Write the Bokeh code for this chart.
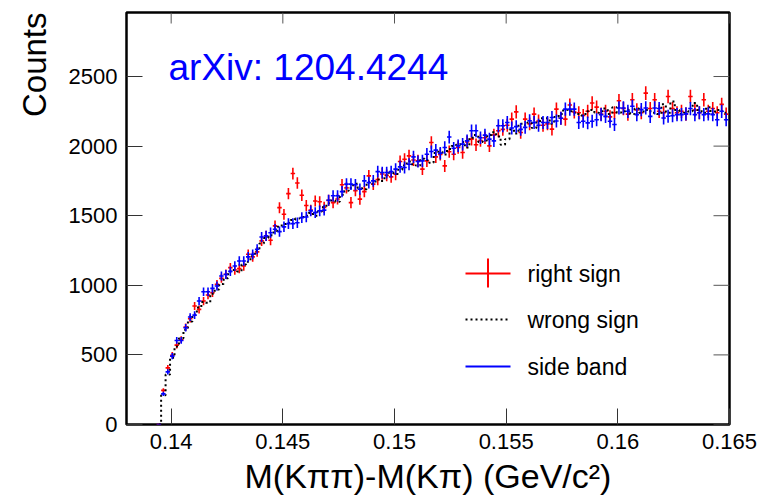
import numpy as np
from bokeh.plotting import figure
from bokeh.models import Range1d, FixedTicker, Label, Arrow, Title
from bokeh.embed import file_html
from bokeh.resources import INLINE

# ---- data ----
bin_first_center = 0.13945   # GeV/c^2
bin_width = 0.0002

right_sign = [0, 245, 407, 498, 570, 610, 700, 760, 851, 827,
              887, 930, 947, 1007, 1050, 1080, 1127, 1110, 1120, 1139,
              1223, 1204, 1240, 1319, 1355, 1324, 1427, 1558, 1510, 1659,
              1803, 1735, 1647, 1573, 1540, 1606, 1600, 1560, 1610, 1594,
              1620, 1722, 1700, 1594, 1680, 1619, 1673, 1786, 1727, 1760,
              1800, 1790, 1779, 1798, 1890, 1906, 1930, 1900, 1894, 1835,
              1894, 2026, 1923, 1940,
              1858, 1960, 1942, 1990, 1954, 2030, 2050, 2010, 2040, 2060,
              2002, 2080, 2110, 2120, 2150, 2194, 2246, 2098, 2194, 2160,
              2230, 2180, 2150, 2160, 2122, 2266, 2200, 2194, 2295, 2245,
              2240, 2220, 2250, 2310, 2280, 2230, 2250, 2210, 2240, 2326,
              2270, 2230, 2333, 2260, 2240, 2381, 2270, 2333, 2250, 2240,
              2357, 2270, 2240, 2250, 2230, 2357, 2260, 2240, 2333, 2250,
              2270, 2240, 2300, 2230]

wrong_sign = [0, 210, 360, 480, 560, 620, 680, 740, 790, 840,
              880, 875, 940, 970, 1010, 1050, 1100, 1110, 1100, 1150,
              1170, 1210, 1250, 1300, 1340, 1360, 1380, 1420, 1440, 1450,
              1470, 1480, 1490, 1500, 1520, 1500, 1530, 1560, 1590, 1610,
              1600, 1650, 1680, 1700, 1730, 1700, 1690, 1740, 1730, 1760,
              1750, 1790, 1810, 1800, 1830, 1860, 1890, 1870, 1860, 1910,
              1900, 1880, 1950, 1960, 1940, 1980, 2000, 2010, 2030, 1990,
              2060, 2080, 2030, 2040, 2080, 2100, 2070, 2010, 2050, 2120,
              2090, 2160, 2150, 2170, 2130, 2180, 2200, 2200, 2160, 2210,
              2230, 2260, 2250, 2240, 2230, 2220, 2250, 2260, 2240, 2250,
              2270, 2230, 2280, 2240, 2250, 2260, 2230, 2270, 2240, 2260,
              2250, 2240, 2230, 2300, 2240, 2320, 2260, 2230, 2240, 2250,
              2310, 2260, 2240, 2280, 2230, 2260, 2250, 2240]

side_band = [0, 220, 378, 491, 604, 604, 695, 772, 786, 887,
             954, 954, 978, 995, 1067, 1078, 1100, 1139, 1175, 1175,
             1204, 1223, 1259, 1347, 1355, 1378, 1403, 1386, 1420, 1443,
             1443, 1450, 1486, 1491, 1535, 1522, 1535, 1540, 1611, 1643,
             1643, 1673, 1727, 1727, 1722, 1691, 1750, 1738, 1750, 1817,
             1810, 1810, 1817, 1835, 1851, 1846, 1870, 1923, 1890, 1894,
             1942, 1961, 1971, 1950,
             1990, 2065, 1985, 2002, 2014, 2038, 2110, 2110, 2060, 2079,
             2050, 2038, 2146, 2146, 2170, 2130, 2140, 2120, 2135, 2182,
             2170, 2150, 2170, 2170, 2206, 2180, 2200, 2266, 2266, 2266,
             2170, 2179, 2167, 2179, 2190, 2226, 2214, 2179, 2155, 2274,
             2274, 2250, 2286, 2226, 2262, 2274, 2214, 2274, 2270, 2202,
             2215, 2218, 2226, 2226, 2232, 2270, 2226, 2240, 2226, 2232,
             2226, 2190, 2250, 2190]

x_ticks = [0.14, 0.145, 0.15, 0.155, 0.16, 0.165]
x_tick_labels = ["0.14", "0.145", "0.15", "0.155", "0.16", "0.165"]
y_ticks = [0, 500, 1000, 1500, 2000, 2500]

legend_labels = ["right sign", "wrong sign", "side band"]
annotation_text = "arXiv: 1204.4244"
x_title = "M(K\u03c0\u03c0)-M(K\u03c0) (GeV/c\u00b2)"
y_title = "Counts"

# ---- layout ----
W, H = 760, 498
BL, BR, BT, BB = 126, 31, 12, 74
FW, FH = W - BL - BR, H - BT - BB
X0, X1 = 0.138, 0.165
Y0, Y1 = 0, 2960
FONT = "Liberation Sans"

# ---- derived ----
n = len(side_band)
xc = bin_first_center + bin_width * np.arange(n)
rs = np.array(right_sign, dtype=float)
ws = np.array(wrong_sign, dtype=float)
sb = np.array(side_band, dtype=float)
rs_err = np.sqrt(rs)
sb_err = np.sqrt(sb)
half = bin_width / 2

p = figure(width=W, height=H,
           x_range=Range1d(X0, X1), y_range=Range1d(Y0, Y1),
           output_backend="svg", toolbar_location=None,
           min_border_left=BL, min_border_right=BR,
           min_border_top=BT, min_border_bottom=BB)
p.grid.visible = False
p.outline_line_color = "black"
p.outline_line_width = 2.5
p.outline_line_alpha = 1.0
p.background_fill_color = "white"
p.border_fill_color = "white"

# ---- axes ----
p.xaxis.ticker = FixedTicker(ticks=x_ticks)
p.xaxis.major_label_overrides = {t: s for t, s in zip(x_ticks, x_tick_labels)}
p.yaxis.ticker = FixedTicker(ticks=y_ticks)
p.xaxis.axis_label = x_title
for ax in (p.xaxis[0], p.yaxis[0]):
    ax.axis_line_color = None
    ax.major_tick_in = 16
    ax.major_tick_out = 0
    ax.major_tick_line_color = "#333333"
    ax.major_tick_line_width = 1
    ax.minor_tick_line_color = None
    ax.major_label_text_font = FONT
    ax.major_label_text_font_size = "22px"
    ax.major_label_text_color = "black"
    ax.axis_label_text_font = FONT
    ax.axis_label_text_font_style = "normal"
    ax.axis_label_text_color = "black"
p.xaxis.axis_label_text_font_size = "34px"
p.yaxis.major_label_standoff = 9
p.xaxis.major_label_standoff = 9
p.xaxis.axis_label_standoff = 5

# y-axis title at the top end of the axis (ROOT style), as a side title
p.add_layout(Title(text=y_title, align="right", text_font=FONT,
                   text_font_size="33px", text_font_style="normal",
                   text_color="black", standoff=26, offset=0), "left")

# mirrored ticks on top and right (tick marks only, no labels)
top_len = 11 * (Y1 - Y0) / FH
right_len = 16 * (X1 - X0) / FW
xt = np.array(x_ticks)
yt = np.array(y_ticks, dtype=float)
p.segment(x0=xt, y0=np.full(len(xt), Y1), x1=xt, y1=np.full(len(xt), Y1 - top_len),
          line_color="#555555", line_width=1)
p.segment(x0=np.full(len(yt), X1), y0=yt, x1=np.full(len(yt), X1 - right_len), y1=yt,
          line_color="#555555", line_width=1)

# ---- right sign (red error crosses) ----
p.segment(x0=xc - half, y0=rs, x1=xc + half, y1=rs, line_color="red", line_width=1.6)
p.segment(x0=xc, y0=rs - rs_err, x1=xc, y1=rs + rs_err, line_color="red", line_width=1.6)

# ---- wrong sign (black dotted histogram) ----
p.step(x=xc, y=ws, mode="center", line_color="black", line_width=2, line_dash="2 3")

# ---- side band (blue error crosses) ----
p.segment(x0=xc - half, y0=sb, x1=xc + half, y1=sb, line_color="blue", line_width=1.6)
p.segment(x0=xc, y0=sb - sb_err, x1=xc, y1=sb + sb_err, line_color="blue", line_width=1.6)

# ---- annotation ----
p.add_layout(Label(x=42, y=357, x_units="screen", y_units="screen",
                   text=annotation_text, text_font=FONT, text_font_size="37px",
                   text_color="blue", text_baseline="alphabetic"))

# ---- legend (screen units relative to frame) ----
lx0, lx1, ltext = 339, 384, 401
rows = [151, 105, 58]
p.add_layout(Arrow(end=None, x_start=lx0, y_start=rows[0], x_end=lx1, y_end=rows[0],
                   start_units="screen", end_units="screen", line_color="red", line_width=2))
p.add_layout(Arrow(end=None, x_start=(lx0 + lx1) / 2, y_start=rows[0] - 14,
                   x_end=(lx0 + lx1) / 2, y_end=rows[0] + 15,
                   start_units="screen", end_units="screen", line_color="red", line_width=2))
p.add_layout(Arrow(end=None, x_start=lx0, y_start=rows[1], x_end=lx1, y_end=rows[1],
                   start_units="screen", end_units="screen", line_color="black",
                   line_width=2, line_dash="2 3"))
p.add_layout(Arrow(end=None, x_start=lx0, y_start=rows[2], x_end=lx1, y_end=rows[2],
                   start_units="screen", end_units="screen", line_color="blue", line_width=2))
for txt, ry in zip(legend_labels, rows):
    p.add_layout(Label(x=ltext, y=ry, x_units="screen", y_units="screen", text=txt,
                       text_font=FONT, text_font_size="23px", text_color="black",
                       text_baseline="middle"))

open("out.html", "w").write(file_html(p, INLINE))
